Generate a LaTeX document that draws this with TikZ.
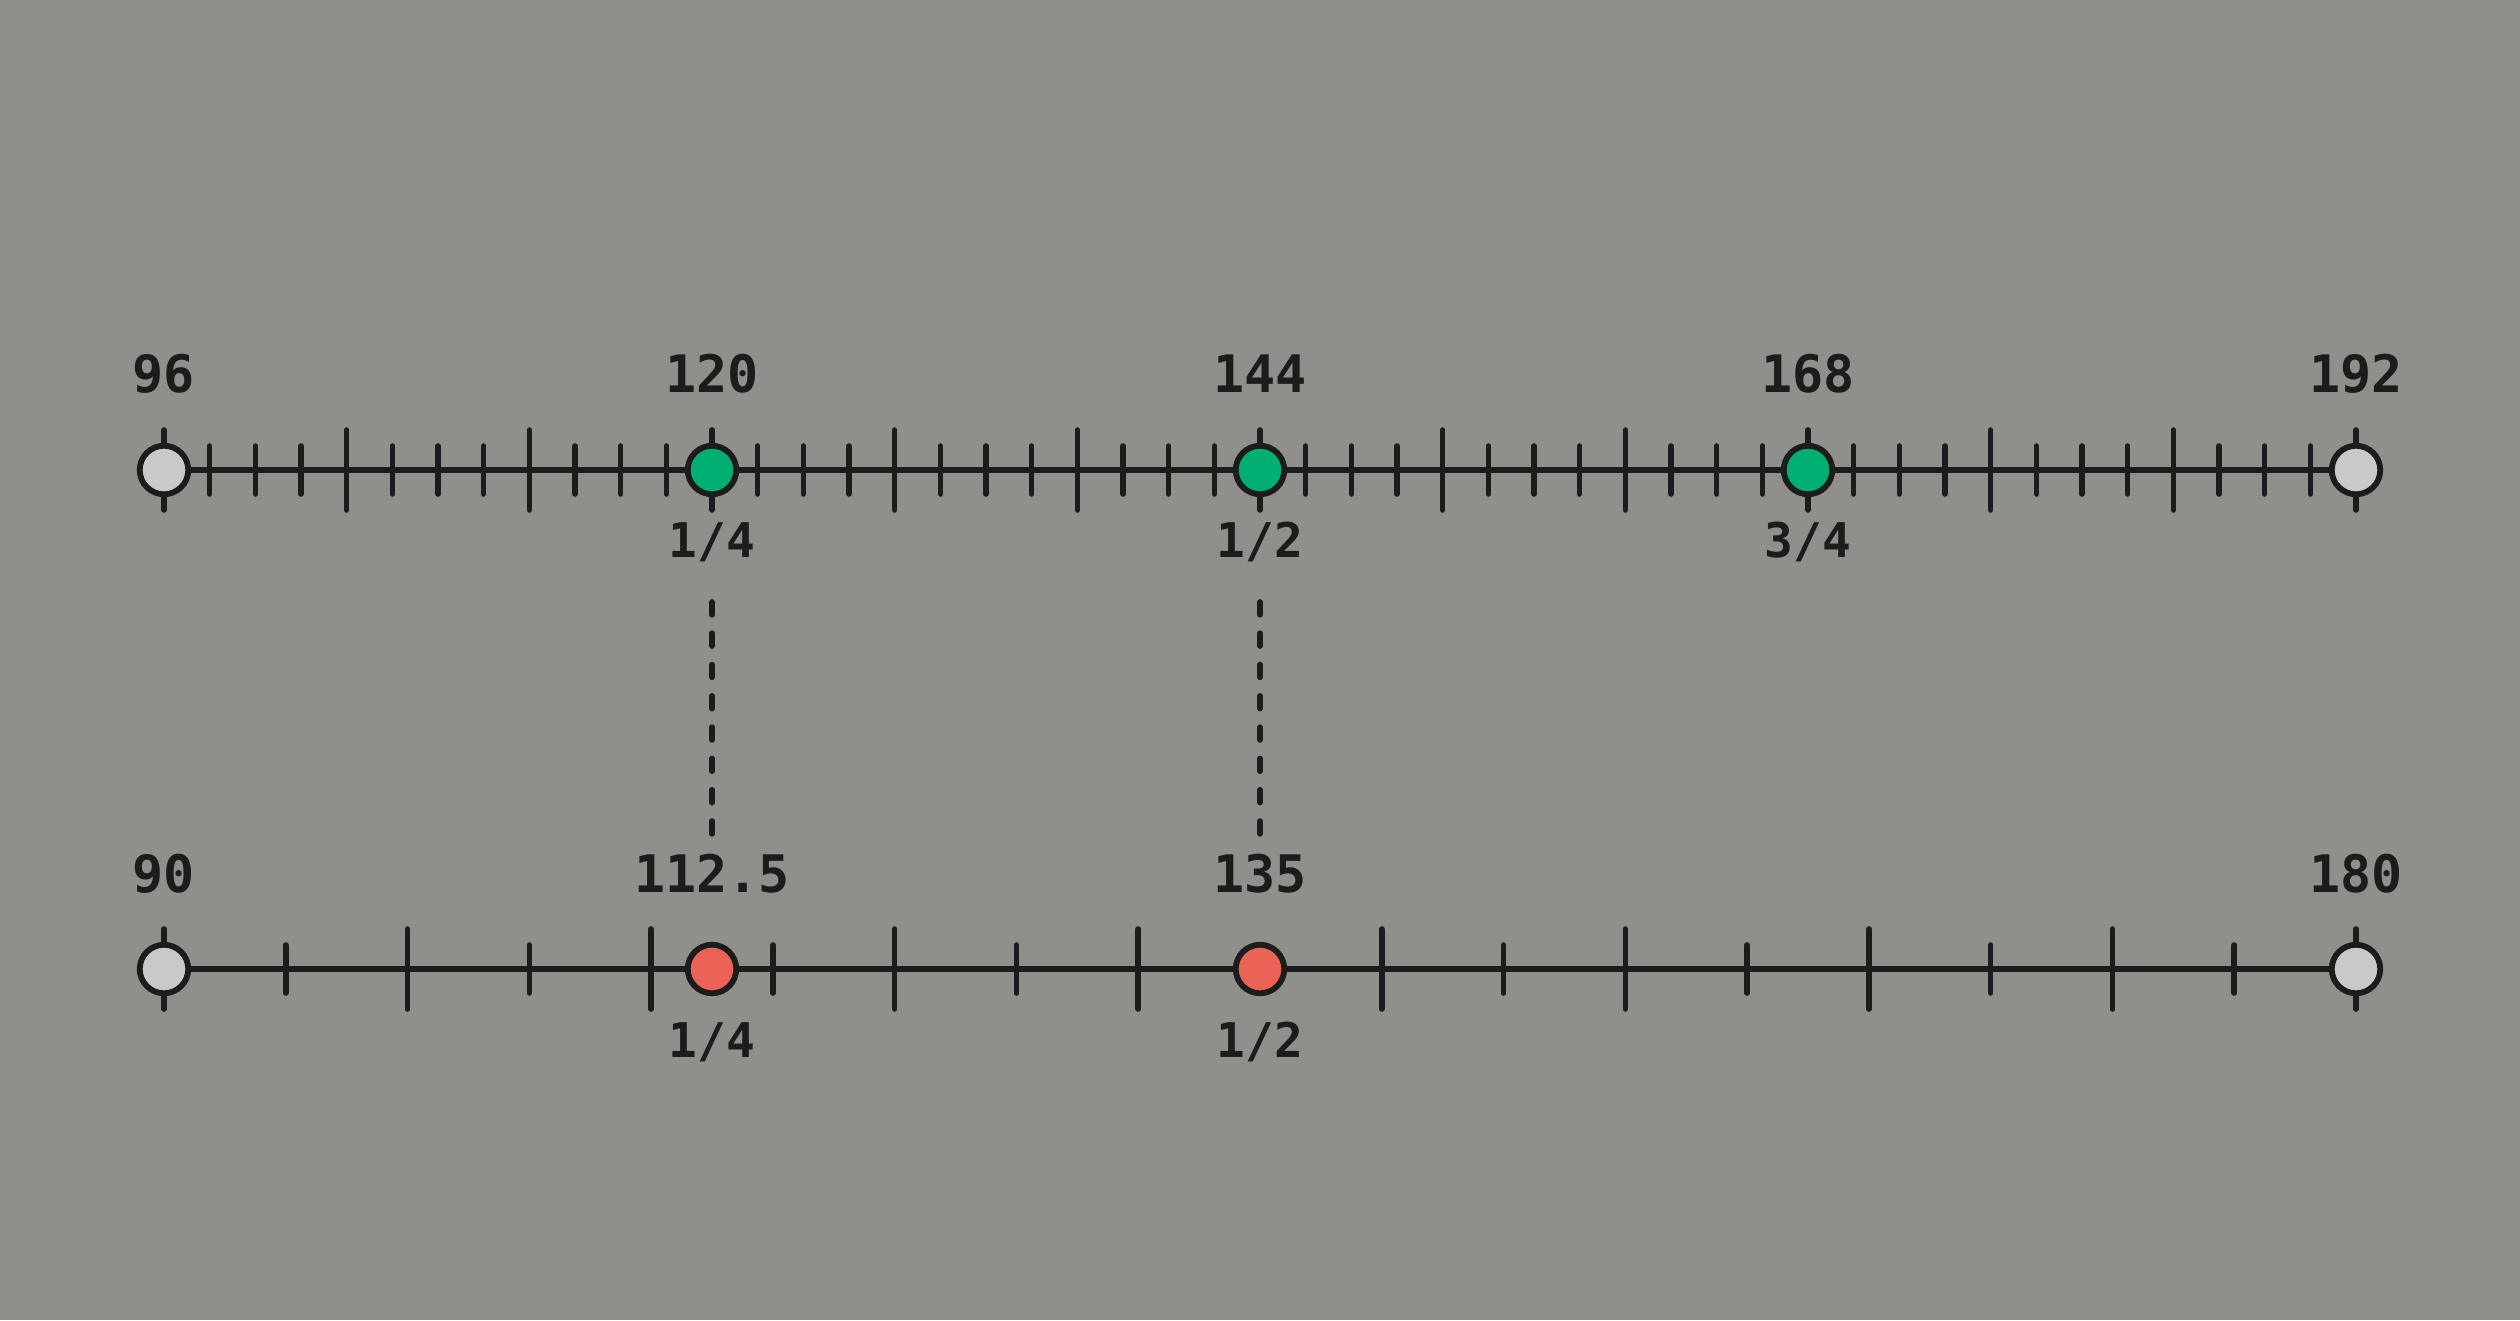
\documentclass[tikz,border=0pt]{standalone}
\usepackage{fontspec}
\newfontfamily\monofont{DejaVu Sans Mono}
\definecolor{bg}{HTML}{8F908B}
\definecolor{ink}{HTML}{1C1C1C}
\definecolor{dotgreen}{HTML}{00B072}
\definecolor{dotred}{HTML}{EB6357}
\definecolor{dotgray}{HTML}{C9C9C9}
\begin{document}
\begin{tikzpicture}[x=0.01cm,y=-0.01cm,
  axis/.style={draw=ink,line width=0.058cm},
  tick/.style={draw=ink,line width=0.056cm,line cap=round},
  dot/.style={circle,draw=ink,line width=0.058cm,minimum size=0.485cm,inner sep=0pt},
  numlabel/.style={anchor=base,inner sep=0pt,text=ink,font=\monofont\bfseries\fontsize{14.7pt}{16pt}\selectfont},
  fraclabel/.style={anchor=base,inner sep=0pt,text=ink,font=\monofont\bfseries\fontsize{13.6pt}{15pt}\selectfont},
  dashline/.style={draw=ink,line width=0.058cm,line cap=round,dash pattern=on 3.6pt off 5.3pt}]
\fill[bg] (0,0) rectangle (2520,1320);
\useasboundingbox (0,0) rectangle (2520,1320);
% top axis
\coordinate (tl) at (164,470);
\coordinate (tr) at (2356,470);
\draw[axis] (tl) -- (tr);
\foreach \i in {0,...,48}{
  \pgfmathsetmacro\tx{164+\i*45.66667}
  \pgfmathtruncatemacro\m{mod(\i,4)}
  \ifnum\m=0 \def\tl{40}\else\def\tl{24}\fi
  \draw[tick] (\tx,470-\tl) -- (\tx,470+\tl);
}
% bottom axis
\coordinate (bl) at (164,969);
\coordinate (br) at (2356,969);
\draw[axis] (bl) -- (br);
\foreach \i in {0,...,18}{
  \pgfmathsetmacro\tx{164+\i*121.77778}
  \pgfmathtruncatemacro\m{mod(\i,2)}
  \ifnum\m=0 \def\tl{40}\else\def\tl{24}\fi
  \draw[tick] (\tx,969-\tl) -- (\tx,969+\tl);
}
% top dots
\node[dot,fill=dotgray]  (t96)  at (164,470) {};
\node[dot,fill=dotgreen] (t120) at (712,470) {};
\node[dot,fill=dotgreen] (t144) at (1260,470) {};
\node[dot,fill=dotgreen] (t168) at (1808,470) {};
\node[dot,fill=dotgray]  (t192) at (2356,470) {};
% bottom dots
\node[dot,fill=dotgray] (b90)  at (164,969) {};
\node[dot,fill=dotred]  (b112) at (712,969) {};
\node[dot,fill=dotred]  (b135) at (1260,969) {};
\node[dot,fill=dotgray] (b180) at (2356,969) {};
% top labels
\node[numlabel] (lt96)  at (164,392) {96};
\node[numlabel] (lt120) at (712,392) {120};
\node[numlabel] (lt144) at (1260,392) {144};
\node[numlabel] (lt168) at (1808,392) {168};
\node[numlabel] (lt192) at (2356,392) {192};
\node[fraclabel] (ft1) at (712,557) {1/4};
\node[fraclabel] (ft2) at (1260,557) {1/2};
\node[fraclabel] (ft3) at (1808,557) {3/4};
% bottom labels
\node[numlabel] (lb90)  at (164,892) {90};
\node[numlabel] (lb112) at (712,892) {112.5};
\node[numlabel] (lb135) at (1260,892) {135};
\node[numlabel] (lb180) at (2356,892) {180};
\node[fraclabel] (fb1) at (712,1057) {1/4};
\node[fraclabel] (fb2) at (1260,1057) {1/2};
% dashed connectors
\coordinate (d1a) at (712,602);
\coordinate (d1b) at (712,838);
\coordinate (d2a) at (1260,602);
\coordinate (d2b) at (1260,838);
\draw[dashline] (d1a) -- (d1b);
\draw[dashline] (d2a) -- (d2b);
\end{tikzpicture}
\end{document}
